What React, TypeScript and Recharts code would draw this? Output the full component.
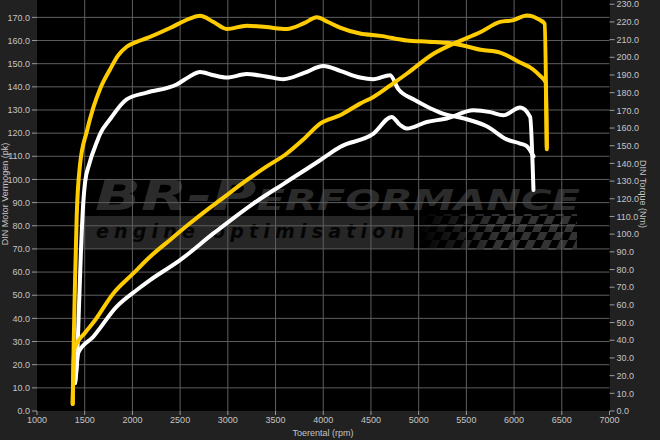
import { LineChart, Line, XAxis, YAxis, CartesianGrid } from "recharts";

// dyno run: power (pk, left axis) and torque (Nm, right axis), tuned (yellow) vs stock (white)
const rpmTicks = [1000, 1500, 2000, 2500, 3000, 3500, 4000, 4500, 5000, 5500, 6000, 6500, 7000];
const pkTicks = [0, 10, 20, 30, 40, 50, 60, 70, 80, 90, 100, 110, 120, 130, 140, 150, 160, 170];
const nmTicks = [0, 10, 20, 30, 40, 50, 60, 70, 80, 90, 100, 110, 120, 130, 140, 150, 160, 170, 180, 190, 200, 210, 220, 230];

const tunedPowerRpm = [1374, 1385, 1398, 1416, 1450, 1524, 1590, 1660, 1765, 1849, 1940, 2050, 2150, 2400, 2600, 2709, 2850, 2988, 3198, 3400, 3618, 3800, 3932, 4050, 4176, 4386, 4600, 4875, 5100, 5294, 5500, 5650, 5853, 6063, 6200, 6273, 6330, 6343];
const tunedPowerPk = [3, 30, 55, 84, 106, 121, 131, 139, 147.5, 153.5, 157.3, 159.5, 161, 165.5, 169.5, 170.7, 168, 165, 166.4, 165.8, 165, 167.5, 170, 168, 165.6, 163, 162, 160, 159.5, 159, 157.5, 156, 154.8, 150.5, 147.5, 144.7, 142, 114];

const stockPowerRpm = [1398, 1416, 1440, 1461, 1485, 1503, 1550, 1626, 1660, 1765, 1940, 2150, 2464, 2600, 2709, 2850, 2988, 3198, 3400, 3583, 3800, 4002, 4176, 4386, 4526, 4700, 4787, 4945, 5085, 5224, 5503, 5713, 5923, 6063, 6133, 6203];
const stockPowerPk = [12, 19, 45, 69.5, 90, 98.5, 107, 116, 119.5, 126, 134.6, 137.5, 141, 144.5, 146.4, 145, 144, 145.5, 144.5, 143.3, 146, 149, 146.9, 144, 143.3, 145, 139, 134.6, 131.5, 128.9, 126, 123, 117.3, 115.5, 114.4, 110];

const tunedTorqueRpm = [1374, 1390, 1398, 1500, 1590, 1800, 2009, 2185, 2400, 2600, 2779, 2918, 3198, 3400, 3618, 3800, 3967, 4176, 4386, 4526, 4700, 4875, 5155, 5364, 5650, 5853, 5993, 6133, 6273, 6320, 6343];
const tunedTorqueNm = [4, 34, 36, 44, 50, 66.5, 77.8, 87.2, 97, 106, 113.6, 119.2, 130.5, 138, 145.6, 154, 162.5, 167.2, 173.8, 177.6, 184, 190.7, 202, 207.7, 214.3, 220, 221, 223.7, 221, 219, 148];

const stockTorqueRpm = [1400, 1420, 1433, 1590, 1835, 2045, 2185, 2499, 2849, 3267, 3600, 3967, 4176, 4526, 4718, 4800, 4875, 5085, 5294, 5574, 5750, 5888, 6063, 6168, 6203];
const stockTorqueNm = [16, 28, 33, 42, 59, 68.4, 74, 85.3, 100.4, 117.3, 129, 141.8, 149.3, 156.8, 166.3, 162, 159.7, 163.4, 165.4, 170, 169, 167.2, 171.6, 166.3, 125];

const zip = (rpm: number[], vals: number[]) => rpm.map((r, i) => ({ rpm: r, v: vals[i] }));

const YELLOW = "#ffcc00";
const WHITE = "#ffffff";
const tickStyle = { fontSize: 9, fill: "#c4c4c4", fontFamily: "Liberation Sans, Arial, sans-serif" };

const Watermark = () => (
    <svg width={660} height={440} style={{ position: "absolute", left: 0, top: 0 }}>
        <defs>
            <pattern id="checks" width={16} height={16} patternUnits="userSpaceOnUse" patternTransform="skewX(-25)">
                <rect x={0} y={0} width={8} height={8} fill="#333" />
                <rect x={8} y={8} width={8} height={8} fill="#333" />
            </pattern>
            <linearGradient id="fade" x1="0" x2="1" y1="0" y2="0">
                <stop offset="0" stopColor="#fff" stopOpacity={0} />
                <stop offset="0.5" stopColor="#fff" stopOpacity={1} />
            </linearGradient>
            <mask id="fadeMask">
                <rect x={415} y={214} width={165} height={36} fill="url(#fade)" />
            </mask>
        </defs>
        <rect x={82} y={216} width={332} height={33} fill="#262626" />
        <rect x={415} y={214} width={162} height={36} fill="url(#checks)" mask="url(#fadeMask)" />
        <text x={95} y={210} fill="#2b2b2b" fontFamily="DejaVu Sans" fontWeight={900} fontStyle="italic"
              textLength={485} lengthAdjust="spacingAndGlyphs">
            <tspan fontSize={42}>BR-P</tspan>
            <tspan fontSize={29}>ERFORMANCE</tspan>
        </text>
        <text x={96} y={238} fill="#050505" fontFamily="DejaVu Sans" fontWeight={700} fontStyle="italic"
              fontSize={19} textLength={308} lengthAdjust="spacing">
            engine optimisation
        </text>
        <text transform="translate(8,194) rotate(-90)" textAnchor="middle" style={tickStyle}>DIN Motor Vermogen (pk)</text>
        <text transform="translate(640,194) rotate(90)" textAnchor="middle" style={tickStyle}>DIN Torque (Nm)</text>
        <text x={323} y={436} textAnchor="middle" style={tickStyle}>Toerental (rpm)</text>
    </svg>
);

export default function App() {
    return (
        <div style={{ position: "absolute", left: 0, top: 0, width: 660, height: 440, background: "#212121" }}>
            <div style={{ position: "absolute", left: 37, top: 0, width: 572.5, height: 411, background: "#000" }} />
            <Watermark />
            <div style={{ position: "absolute", left: 0, top: 0 }}>
                <LineChart width={660} height={440} margin={{ top: 0, right: 0, bottom: 0, left: 0 }}>
                    <CartesianGrid
                        yAxisId="left"
                        stroke="#5e5e5e"
                        verticalValues={rpmTicks.slice(1, -1)}
                        horizontalValues={pkTicks.slice(1)}
                    />
                    <XAxis
                        dataKey="rpm"
                        type="number"
                        domain={[1000, 7000]}
                        ticks={rpmTicks}
                        height={29}
                        tick={tickStyle}
                        tickSize={4}
                        tickLine={{ stroke: "#9a9a9a" }}
                        axisLine={false}
                        interval={0}
                    />
                    <YAxis
                        yAxisId="left"
                        type="number"
                        domain={[0, 177.5]}
                        ticks={pkTicks}
                        width={37}
                        tick={tickStyle}
                        tickSize={5}
                        tickLine={{ stroke: "#9a9a9a" }}
                        axisLine={false}
                        tickFormatter={(v: number) => v.toFixed(1)}
                        interval={0}
                    />
                    <YAxis
                        yAxisId="right"
                        orientation="right"
                        type="number"
                        domain={[0, 232.4]}
                        ticks={nmTicks}
                        width={50.5}
                        tick={tickStyle}
                        tickSize={5}
                        tickLine={{ stroke: "#9a9a9a" }}
                        axisLine={false}
                        tickFormatter={(v: number) => v.toFixed(1)}
                        interval={0}
                    />
                    <Line data={zip(stockTorqueRpm, stockTorqueNm)} dataKey="v" yAxisId="right" type="monotone"
                          stroke={WHITE} strokeWidth={4} dot={false} isAnimationActive={false} strokeLinecap="round" />
                    <Line data={zip(stockPowerRpm, stockPowerPk)} dataKey="v" yAxisId="left" type="monotone"
                          stroke={WHITE} strokeWidth={4} dot={false} isAnimationActive={false} strokeLinecap="round" />
                    <Line data={zip(tunedTorqueRpm, tunedTorqueNm)} dataKey="v" yAxisId="right" type="monotone"
                          stroke={YELLOW} strokeWidth={4} dot={false} isAnimationActive={false} strokeLinecap="round" />
                    <Line data={zip(tunedPowerRpm, tunedPowerPk)} dataKey="v" yAxisId="left" type="monotone"
                          stroke={YELLOW} strokeWidth={4} dot={false} isAnimationActive={false} strokeLinecap="round" />
                </LineChart>
            </div>
        </div>
    );
}
